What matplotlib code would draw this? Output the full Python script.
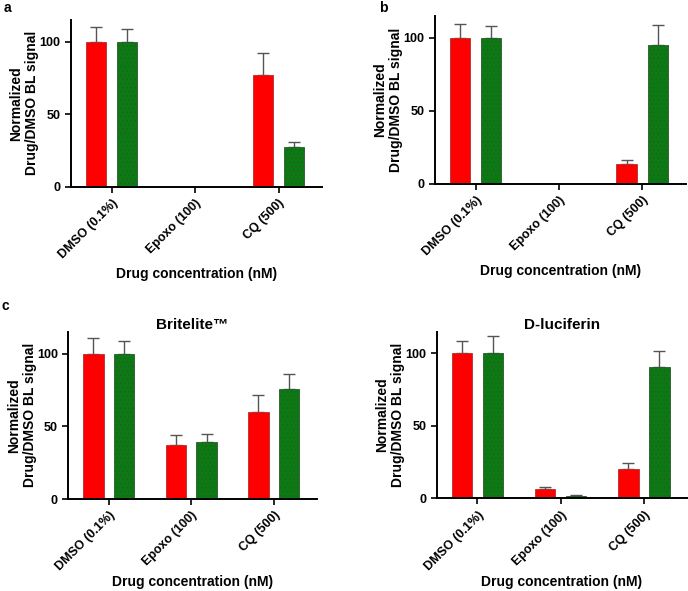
import matplotlib
matplotlib.use("Agg")
import matplotlib.pyplot as plt
import numpy as np

plt.rcParams['font.family'] = ['Liberation Sans', 'DejaVu Sans']
plt.rcParams['font.weight'] = 'bold'
plt.rcParams['hatch.linewidth'] = 0.5

categories = ["DMSO (0.1%)", "Epoxo (100)", "CQ (500)"]

a_red = [100, 0, 77.2]
a_red_err = [10, 0, 15]
a_green = [100, 0, 27.6]
a_green_err = [8.5, 0, 3.5]

b_red = [100, 0, 13.7]
b_red_err = [9.8, 0, 2.6]
b_green = [100, 0, 95.2]
b_green_err = [8, 0, 13.5]

c_red = [100, 37.1, 60.1]
c_red_err = [10.4, 6.6, 11.6]
c_green = [100, 38.9, 75.5]
c_green_err = [8.3, 5.8, 10.4]

d_red = [100, 6.6, 20.2]
d_red_err = [8.7, 1.4, 3.9]
d_green = [100, 1.8, 90.3]
d_green_err = [11.7, 0.4, 11.7]

titles = [None, None, "Britelite\u2122", "D-luciferin"]

W, H = 688, 591
fig = plt.figure(figsize=(W/100, H/100), dpi=100)

def rect(l, r, b, t):
    return [l/W, 1 - b/H, (r-l)/W, (b-t)/H]

positions = [
    rect(70.7, 322, 186.7, 20),
    rect(434.7, 685.7, 184, 16),
    rect(68.3, 316.7, 499, 331.7),
    rect(436.7, 687, 498.3, 331.7),
]

data = [
    (a_red, a_red_err, a_green, a_green_err),
    (b_red, b_red_err, b_green, b_green_err),
    (c_red, c_red_err, c_green, c_green_err),
    (d_red, d_red_err, d_green, d_green_err),
]

x = np.arange(len(categories))
off = 0.186
bw = 0.248
tfs = 9
lfs = 10

for i, (pos, (r, re, g, ge)) in enumerate(zip(positions, data)):
    ax = fig.add_axes(pos)
    rr = np.array(r); gg = np.array(g)
    rmask = rr > 0
    gmask = gg > 0
    ax.bar(x[rmask] - off, rr[rmask], bw, color='#ff0000', edgecolor='#b03030', linewidth=0.6, zorder=2)
    ax.errorbar(x[rmask] - off, rr[rmask], yerr=[np.zeros(rmask.sum()), np.array(re)[rmask]],
                fmt='none', ecolor='#555555', elinewidth=1.0, capsize=4.3, capthick=1.0, zorder=1)
    ax.bar(x[gmask] + off, gg[gmask], bw, color='#0b7a12', edgecolor='#2a5a2a', linewidth=0.6,
           hatch='....', zorder=2)
    ax.errorbar(x[gmask] + off, gg[gmask], yerr=[np.zeros(gmask.sum()), np.array(ge)[gmask]],
                fmt='none', ecolor='#555555', elinewidth=1.0, capsize=4.3, capthick=1.0, zorder=1)
    ax.set_xlim(-0.49, 2.52)
    ax.set_ylim(0, 115)
    ax.set_yticks([0, 50, 100])
    ax.set_xticks(x)
    ax.set_xticklabels(categories, rotation=45, ha='right', rotation_mode='anchor', fontsize=tfs, fontweight='bold')
    ax.tick_params(axis='both', width=1.2, length=4, labelsize=tfs)
    for lab in ax.get_yticklabels():
        lab.set_fontweight('bold')
    ax.spines['top'].set_visible(False)
    ax.spines['right'].set_visible(False)
    ax.spines['left'].set_linewidth(1.4)
    ax.spines['bottom'].set_linewidth(1.4)
    ax.set_ylabel("Normalized\nDrug/DMSO BL signal", fontsize=lfs, fontweight='bold', labelpad=0, linespacing=1.2)
    ax.set_xlabel("Drug concentration (nM)", fontsize=lfs, fontweight='bold', labelpad=4 if i < 2 else 1.5)
    if titles[i]:
        ax.set_title(titles[i], fontsize=11, fontweight='bold', pad=1)

fig.text(4/W, 1 - 8/H, "a", fontsize=10, fontweight='bold', va='center', ha='left')
fig.text(379/W, 1 - 8/H, "b", fontsize=10, fontweight='bold', va='center', ha='left')
fig.text(2/W, 1 - 306/H, "c", fontsize=10, fontweight='bold', va='center', ha='left')

fig.savefig("out.png", dpi=100)
